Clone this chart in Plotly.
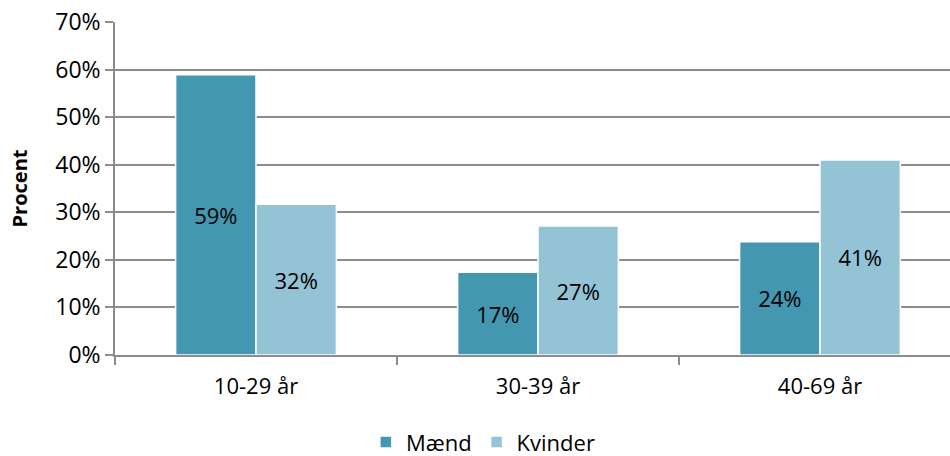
import plotly.graph_objects as go

categories = ["10-29 år", "30-39 år", "40-69 år"]
maend = [0.589, 0.174, 0.238]
kvinder = [0.317, 0.271, 0.410]
y_ticks = [0, 0.1, 0.2, 0.3, 0.4, 0.5, 0.6, 0.7]

font_family = "Open Sans, Noto Sans, Liberation Sans, sans-serif"

fig = go.Figure()
fig.add_trace(go.Bar(
    name="Mænd", x=categories, y=maend,
    marker=dict(color="#4397B0", line=dict(color="white", width=1.5)),
    texttemplate="%{y:.0%}", textposition="inside", insidetextanchor="middle",
    textfont=dict(color="black", size=22, family=font_family),
))
fig.add_trace(go.Bar(
    name="Kvinder", x=categories, y=kvinder,
    marker=dict(color="#93C3D5", line=dict(color="white", width=1.5)),
    texttemplate="%{y:.0%}", textposition="inside", insidetextanchor="middle",
    textfont=dict(color="black", size=22, family=font_family),
))

fig.update_layout(
    width=961, height=456,
    margin=dict(l=115, r=0, t=22, b=101, autoexpand=False),
    paper_bgcolor="white", plot_bgcolor="white",
    barmode="group", bargap=0.43, bargroupgap=0,
    font=dict(family=font_family, size=22, color="black"),
    uniformtext=dict(mode="show", minsize=10),
    legend=dict(orientation="h", xref="container", x=0.503, xanchor="center",
                yref="container", y=0.03, yanchor="middle",
                font=dict(size=22), itemwidth=30, traceorder="normal"),
    showlegend=True,
)
fig.update_xaxes(
    showline=True, linecolor="#8c8c8c", linewidth=1.5,
    ticks="outside", tickson="boundaries", ticklen=8, tickcolor="#8c8c8c", tickwidth=1.5,
    tickfont=dict(size=22), showgrid=False, automargin=False, ticklabelstandoff=11,
)
fig.update_yaxes(
    range=[0, 0.7], tickvals=y_ticks, tickformat=".0%",
    showline=True, linecolor="#8c8c8c", linewidth=1.5,
    ticks="outside", ticklen=8, tickcolor="#8c8c8c", tickwidth=1.5,
    showgrid=True, gridcolor="#8c8c8c", gridwidth=1.5,
    tickfont=dict(size=23), zeroline=False, automargin=False,
    title=dict(text="<b>Procent</b>", font=dict(size=20), standoff=22),
)

fig.write_html(
    "out.html",
    config={"displayModeBar": False},
    post_script="document.body.style.margin='0';document.body.style.overflow='hidden';",
)
